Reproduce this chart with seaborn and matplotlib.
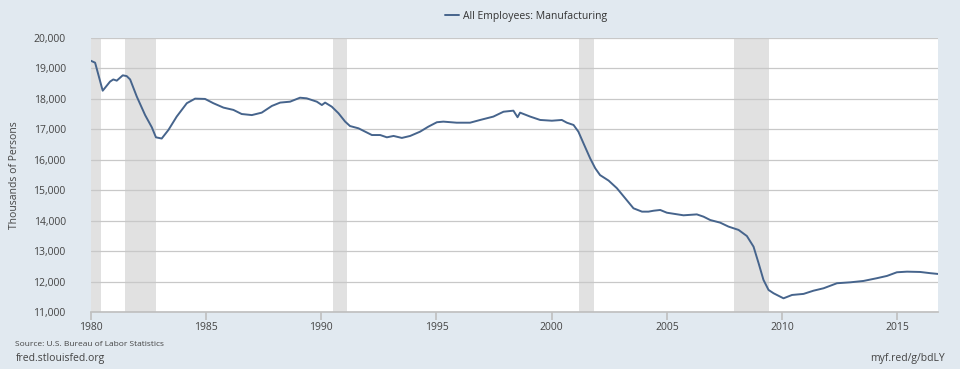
import numpy as np
import pandas as pd
import matplotlib
matplotlib.use("Agg")
import matplotlib.pyplot as plt
import seaborn as sns

# values (decimal year, thousands of persons)
years = [1980.0, 1980.19, 1980.52, 1980.84, 1980.98, 1981.13, 1981.39, 1981.56, 1981.71,
         1982.0, 1982.36, 1982.65, 1982.83, 1983.08, 1983.37, 1983.73, 1984.17, 1984.53,
         1984.96, 1985.32, 1985.76, 1986.19, 1986.55, 1986.99, 1987.42, 1987.86, 1988.22,
         1988.65, 1989.08, 1989.37, 1989.81, 1990.03, 1990.17, 1990.46, 1990.75, 1991.04,
         1991.25, 1991.62, 1991.91, 1992.2, 1992.56, 1992.85, 1993.14, 1993.5, 1993.86,
         1994.29, 1994.65, 1995.02, 1995.3, 1995.88, 1996.46, 1996.9, 1997.47, 1997.91,
         1998.34, 1998.52, 1998.63, 1999.07, 1999.5, 2000.01, 2000.44, 2000.66, 2000.95,
         2001.16, 2001.38, 2001.67, 2001.89, 2002.1, 2002.47, 2002.83, 2003.19, 2003.55,
         2003.92, 2004.2, 2004.42, 2004.71, 2005.0, 2005.72, 2006.3, 2006.59, 2006.88,
         2007.31, 2007.67, 2008.11, 2008.47, 2008.76, 2008.98, 2009.19, 2009.41, 2009.63,
         2010.06, 2010.43, 2010.93, 2011.36, 2011.8, 2012.38, 2012.96, 2013.53, 2014.11,
         2014.55, 2014.98, 2015.42, 2015.99, 2016.43, 2016.76]
employees = [19255, 19190, 18270, 18570, 18640, 18600, 18775, 18750, 18640,
             18075, 17470, 17070, 16740, 16700, 16980, 17420, 17860, 18010,
             18000, 17860, 17715, 17640, 17505, 17470, 17550, 17770, 17880,
             17910, 18040, 18020, 17910, 17800, 17880, 17745, 17530, 17255,
             17110, 17035, 16925, 16815, 16815, 16740, 16785, 16720, 16785,
             16925, 17090, 17235, 17255, 17220, 17220, 17310, 17420, 17580,
             17615, 17400, 17550, 17420, 17310, 17285, 17310, 17220, 17145,
             16925, 16545, 16050, 15725, 15500, 15320, 15070, 14740, 14410,
             14300, 14300, 14330, 14355, 14265, 14180, 14210, 14135, 14025,
             13940, 13810, 13700, 13500, 13150, 12605, 12060, 11730, 11620,
             11455, 11565, 11600, 11705, 11785, 11950, 11980, 12025, 12115,
             12190, 12310, 12330, 12320, 12280, 12255]

rec_start = [1980.0, 1981.5, 1990.5, 2001.17, 2007.92]
rec_end = [1980.45, 1982.85, 1991.12, 2001.85, 2009.42]

x_ticks = [1980, 1985, 1990, 1995, 2000, 2005, 2010, 2015]
y_ticks = list(range(11000, 20001, 1000))

df = pd.DataFrame({"year": years, "employees": employees})

sns.set_theme(style="white")
plt.rcParams["font.family"] = ["Open Sans", "DejaVu Sans"]

bg = "#e1e9f0"
fig = plt.figure(figsize=(9.6, 3.69), dpi=100, facecolor=bg)
ax = fig.add_axes([0.0945, 0.154, 0.8825, 0.743])
ax.set_facecolor("white")

for s, e in zip(rec_start, rec_end):
    ax.axvspan(s, e, color="#e1e1e1", lw=0, zorder=1)

for yv in y_ticks:
    ax.axhline(yv, color="#c8c8c8", lw=0.9, zorder=2)

sns.lineplot(data=df, x="year", y="employees", ax=ax, color="#46648c", lw=1.4,
             zorder=3, label="All Employees: Manufacturing")

ax.set_xlim(1980, 2016.76)
ax.set_ylim(11000, 20000)
ax.set_xticks(x_ticks)
ax.set_xticklabels([str(t) for t in x_ticks])
ax.set_yticks(y_ticks)
ax.set_yticklabels([f"{t:,}" for t in y_ticks])
ax.tick_params(axis="x", length=6, color="#c0c0c0", labelsize=7.5, labelcolor="#444444", pad=1)
ax.tick_params(axis="y", length=0, labelsize=7.5, labelcolor="#444444", pad=18)
ax.xaxis.set_ticks_position("bottom")
for side in ["top", "right", "left"]:
    ax.spines[side].set_visible(False)
ax.spines["bottom"].set_color("#c0c0c0")
ax.set_xlabel("")
ax.set_ylabel("Thousands of Persons", fontsize=7.5, color="#444444", labelpad=10)

leg = ax.legend(loc="center", bbox_to_anchor=(0.514, 1.08), frameon=False,
                fontsize=7.5, handlelength=1.4, handletextpad=0.4)
for t in leg.get_texts():
    t.set_color("#333333")

fig.text(0.016, 0.063, "Source: U.S. Bureau of Labor Statistics", fontsize=6, color="#444444")
fig.text(0.016, 0.022, "fred.stlouisfed.org", fontsize=7.5, color="#444444")
fig.text(0.984, 0.022, "myf.red/g/bdLY", fontsize=7.5, color="#444444", ha="right")

fig.savefig("out.png", dpi=100, facecolor=bg)
